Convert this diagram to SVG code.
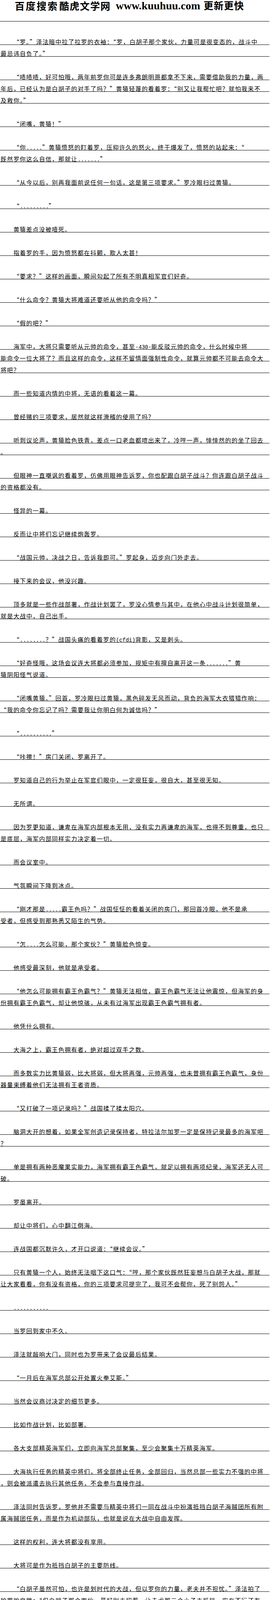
<svg xmlns="http://www.w3.org/2000/svg" width="700" height="4690" viewBox="0 0 700 4690" xml:lang="zh-CN">
<style>
.t{font-family:"Noto Sans CJK SC","Noto Sans CJK JP",sans-serif;font-size:15px;letter-spacing:1.45px;fill:#000;font-feature-settings:"fwid" 1;}
.m{font-family:"Liberation Mono",monospace;font-size:13.71px;letter-spacing:0px;font-feature-settings:normal;}
.h{font-family:"Noto Sans CJK SC",sans-serif;font-weight:700;font-size:25px;fill:#000;}
.w{font-family:"Liberation Serif",serif;font-weight:700;font-size:28px;fill:#000;}
.rule{fill:none;stroke:#000;stroke-width:1;}
</style>
<rect width="700" height="4690" fill="#fff"/>
<g id="header-top">
<text class="h" x="38" y="25" letter-spacing="3">百度搜索</text>
<text class="h" x="152" y="25" letter-spacing="1.4">酷虎文学网</text>
<text class="w" x="297" y="23.5">www.kuuhuu.com</text>
<text class="h" x="522" y="24" font-size="24" letter-spacing="1">更新更快</text>
</g>
<g id="rules">
<path class="rule" d="M0 54.5H691M0 114.5H691M0 144.5H691M0 204.5H691M0 234.5H691M0 264.5H691M0 324.5H691M0 384.5H691M0 414.5H691M0 474.5H691M0 534.5H691M0 594.5H691M0 654.5H691M0 714.5H691M0 774.5H691M0 834.5H691M0 894.5H691M0 924.5H691M0 954.5H691M0 1014.5H691M0 1074.5H691M0 1134.5H691M0 1164.5H691M0 1224.5H691M0 1254.5H691M0 1314.5H691M0 1374.5H691M0 1434.5H691M0 1494.5H691M0 1554.5H691M0 1584.5H691M0 1644.5H691M0 1704.5H691M0 1734.5H691M0 1794.5H691M0 1824.5H691M0 1884.5H691M0 1944.5H691M0 2004.5H691M0 2064.5H691M0 2124.5H691M0 2154.5H691M0 2214.5H691M0 2274.5H691M0 2334.5H691M0 2364.5H691M0 2424.5H691M0 2484.5H691M0 2544.5H691M0 2574.5H691M0 2634.5H691M0 2694.5H691M0 2754.5H691M0 2784.5H691M0 2844.5H691M0 2904.5H691M0 2934.5H691M0 2994.5H691M0 3024.5H691M0 3084.5H691M0 3144.5H691M0 3204.5H691M0 3264.5H691M0 3294.5H691M0 3354.5H691M0 3414.5H691M0 3474.5H691M0 3534.5H691M0 3594.5H691M0 3654.5H691M0 3714.5H691M0 3774.5H691M0 3804.5H691M0 3864.5H691M0 3894.5H691M0 3954.5H691M0 4014.5H691M0 4074.5H691M0 4104.5H691M0 4134.5H691M0 4194.5H691M0 4254.5H691M0 4314.5H691M0 4374.5H691M0 4434.5H691M0 4464.5H691M0 4524.5H691M0 4584.5H691M0 4614.5H691"/>
</g>
<g id="body">
<text class="t" x="34.4" y="112.5">“罗。”泽法暗中拉了拉罗的衣袖：“罗，白胡子那个家伙，力量可是很变态的，战斗中</text>
<text class="t" x="1.5" y="142.5">最忌讳自负了。”</text>
<text class="t" x="34.4" y="202.5">“啧啧啧，好可怕哦，两年前罗你可是连多弗朗明哥都拿不下来，需要借助我的力量，两</text>
<text class="t" x="1.5" y="232.5">年后，已经认为是白胡子的对手了吗？”黄猿轻蔑的看着罗：“别又让我帮忙吧？就怕我来不</text>
<text class="t" x="1.5" y="262.5">及救你。”</text>
<text class="t" x="34.4" y="322.5">“闭嘴，黄猿！”</text>
<text class="t" x="34.4" y="382.5">“你<tspan class="m">.....</tspan>”黄猿愤怒的盯着罗，压抑许久的怒火，终于爆发了，愤怒的站起来：“</text>
<text class="t" x="1.5" y="412.5">既然罗你这么自信，那就让<tspan class="m">.......</tspan>”</text>
<text class="t" x="34.4" y="472.5">“从今以后，别再我面前说任何一句话，这是第三项要求。”罗冷眼扫过黄猿。</text>
<text class="t" x="34.4" y="532.5">“<tspan class="m">.........</tspan>”</text>
<text class="t" x="34.4" y="592.5">黄猿差点没被噎死。</text>
<text class="t" x="34.4" y="652.5">指着罗的手，因为愤怒都在抖颤，欺人太甚！</text>
<text class="t" x="34.4" y="712.5">“要求？”这样的画面，瞬间勾起了所有不明真相军官们好奇。</text>
<text class="t" x="34.4" y="772.5">“什么命令？黄猿大将难道还要听从他的命令吗？”</text>
<text class="t" x="34.4" y="832.5">“假的吧？”</text>
<text class="t" x="34.4" y="892.5">海军中，大将只需要听从元帅的命令，甚至<tspan class="m">-430-</tspan>能反驳元帅的命令，什么时候中将</text>
<text class="t" x="1.5" y="922.5">能命令一位大将了？而且这样的命令，这样不留情面强制性命令，就算元帅都不可能去命令大</text>
<text class="t" x="1.5" y="952.5">将吧？</text>
<text class="t" x="34.4" y="1012.5">而一些知道内情的中将，无语的看着这一幕。</text>
<text class="t" x="34.4" y="1072.5">曾经赌约三项要求，居然就这样滑稽的使用了吗？</text>
<text class="t" x="34.4" y="1132.5">听到议论声，黄猿脸色铁青，差点一口老血都喷出来了，冷哼一声，悻悻然的的坐了回去</text>
<text class="t" x="1.5" y="1162.5">。</text>
<text class="t" x="34.4" y="1222.5">但眼神一直嘲讽的看着罗，仿佛用眼神告诉罗，你也配跟白胡子战斗？你连跟白胡子战斗</text>
<text class="t" x="1.5" y="1252.5">的资格都没有。</text>
<text class="t" x="34.4" y="1312.5">怪异的一幕。</text>
<text class="t" x="34.4" y="1372.5">反而让中将们忘记继续炮轰罗。</text>
<text class="t" x="34.4" y="1432.5">“战国元帅，决战之日，告诉我即可。”罗起身，迈步向门外走去。</text>
<text class="t" x="34.4" y="1492.5">接下来的会议，他没兴趣。</text>
<text class="t" x="34.4" y="1552.5">顶多就是一些作战部署，作战计划罢了，罗没心情参与其中，在他心中战斗计划很简单，</text>
<text class="t" x="1.5" y="1582.5">就是大战中，自己出手。</text>
<text class="t" x="34.4" y="1642.5">“<tspan class="m">........</tspan>？”战国头痛的看着罗的<tspan class="m">(cfdi)</tspan>背影，又是刺头。</text>
<text class="t" x="34.4" y="1702.5">“好奇怪哦，这场会议连大将都必须参加，规矩中有擅自离开这一条<tspan class="m">.......</tspan>”黄</text>
<text class="t" x="1.5" y="1732.5">猿阴阳怪气说道。</text>
<text class="t" x="34.4" y="1792.5">“闭嘴黄猿。”回首，罗冷眼扫过黄猿，黑色碎发无风而动，背负的海军大衣猎猎作响：</text>
<text class="t" x="1.5" y="1822.5">“我的命令你忘记了吗？需要我让你明白何为诚信吗？”</text>
<text class="t" x="34.4" y="1882.5">“<tspan class="m">..........</tspan>”</text>
<text class="t" x="34.4" y="1942.5">“咔擦！”房门关闭，罗离开了。</text>
<text class="t" x="34.4" y="2002.5">罗知道自己的行为举止在军官们眼中，一定很狂妄，很自大，甚至很无知。</text>
<text class="t" x="34.4" y="2062.5">无所谓。</text>
<text class="t" x="34.4" y="2122.5">因为罗更知道，谦卑在海军内部根本无用，没有实力再谦卑的海军，也得不到尊重，也只</text>
<text class="t" x="1.5" y="2152.5">是底层，海军内部同样实力决定着一切。</text>
<text class="t" x="34.4" y="2212.5">而会议室中。</text>
<text class="t" x="34.4" y="2272.5">气氛瞬间下降到冰点。</text>
<text class="t" x="34.4" y="2332.5">“刚才那是<tspan class="m">.....</tspan>霸王色吗？”战国怔怔的看着关闭的房门，那回首冷眼，他不是承</text>
<text class="t" x="1.5" y="2362.5">受者，但感受到那熟悉又陌生的气势。</text>
<text class="t" x="34.4" y="2422.5">“怎<tspan class="m">....</tspan>怎么可能，那个家伙？”黄猿脸色惊变。</text>
<text class="t" x="34.4" y="2482.5">他感受最深刻，他就是承受者。</text>
<text class="t" x="34.4" y="2542.5">“他怎么可能拥有霸王色霸气？”黄猿无法相信，霸王色霸气无法让他震惊，但海军的身</text>
<text class="t" x="1.5" y="2572.5">份拥有霸王色霸气，却让他惊骇，从未有过海军出现霸王色霸气拥有者。</text>
<text class="t" x="34.4" y="2632.5">他凭什么拥有。</text>
<text class="t" x="34.4" y="2692.5">大海之上，霸王色拥有者，绝对超过双手之数。</text>
<text class="t" x="34.4" y="2752.5">而多数实力比黄猿弱，比大将弱，但大将再强，元帅再强，也未曾拥有霸王色霸气，身份</text>
<text class="t" x="1.5" y="2782.5">器量束缚着他们无法拥有王者资质。</text>
<text class="t" x="34.4" y="2842.5">“又打破了一项记录吗？”战国揉了揉太阳穴。</text>
<text class="t" x="34.4" y="2902.5">脑洞大开的想着，如果全军创造记录保持者，特拉法尔加罗一定是保持记录最多的海军吧</text>
<text class="t" x="1.5" y="2932.5">？</text>
<text class="t" x="34.4" y="2992.5">单是拥有两种恶魔果实能力，海军拥有霸王色霸气，就足以拥有两项纪录，海军还无人可</text>
<text class="t" x="1.5" y="3022.5">破。</text>
<text class="t" x="34.4" y="3082.5">罗虽离开。</text>
<text class="t" x="34.4" y="3142.5">却让中将们，心中翻江倒海。</text>
<text class="t" x="34.4" y="3202.5">连战国都沉默许久，才开口说道：“继续会议。”</text>
<text class="t" x="34.4" y="3262.5">只有黄猿一个人，始终无法咽下这口气：“哼，那个家伙既然狂妄想与白胡子大战，那就</text>
<text class="t" x="1.5" y="3292.5">让大家看看，你有没有资格，你的三项要求可提完了，我可不会帮你，死了别怨人。”</text>
<text class="t" x="34.4" y="3352.5"><tspan class="m">...........</tspan></text>
<text class="t" x="34.4" y="3412.5">当罗回到家中不久。</text>
<text class="t" x="34.4" y="3472.5">泽法就敲响大门，同时也为罗带来了会议最后结果。</text>
<text class="t" x="34.4" y="3532.5">“一月后在海军总部公开处置火拳艾斯。”</text>
<text class="t" x="34.4" y="3592.5">当然会议商讨决定的细节更多。</text>
<text class="t" x="34.4" y="3652.5">比如作战计划，比如部署。</text>
<text class="t" x="34.4" y="3712.5">各大支部精英海军们，立即向海军总部聚集，至少会聚集十万精英海军。</text>
<text class="t" x="34.4" y="3772.5">大海执行任务的精英中将们，将全部终止任务，全部回归，当然总部一些实力不强的中将</text>
<text class="t" x="1.5" y="3802.5">，则会被派遣去执行其他任务，不会参与直接作战。</text>
<text class="t" x="34.4" y="3862.5">泽法同时告诉罗，罗他并不需要与精英中将们一同在战斗中扮演抵挡白胡子海贼团所有附</text>
<text class="t" x="1.5" y="3892.5">属海贼团任务，而是作为机动部队，也就是说在大战中自由发挥。</text>
<text class="t" x="34.4" y="3952.5">这样的权利，连大将都没有享用。</text>
<text class="t" x="34.4" y="4012.5">大将可是作为抵挡白胡子的主要防线。</text>
<text class="t" x="34.4" y="4072.5">“白胡子虽然可怕，也许是划时代的大战，但以罗你的力量，老夫并不担忧。”泽法拍了</text>
<text class="t" x="1.5" y="4102.5">拍罗的肩膀：“但白胡子那个家伙，最好别去招惹，让赤犬那三个小子去抵挡，实在不行还有</text>
<text class="t" x="1.5" y="4132.5">战国还有卡普，用不着你去拼命。”</text>
<text class="t" x="34.4" y="4192.5">罗轻笑并没有承诺什么。</text>
<text class="t" x="34.4" y="4252.5">白胡子最后一战，怎么可能不参与？</text>
<text class="t" x="34.4" y="4312.5">“可惜老夫老了。”泽法拍了拍罗的肩膀，转身向远处走去，背影略显萧条。</text>
<text class="t" x="34.4" y="4372.5">泽法并不是直接作战部队。</text>
<text class="t" x="34.4" y="4432.5">他的任务是管理海军总部整个城镇，指挥所有城镇居民撤离，保护所有百姓以及新兵们撤</text>
<text class="t" x="1.5" y="4462.5">离，不会参与这场大战。</text>
<text class="t" x="1.5" y="4522.5">飞卢提醒您：读书三件事<tspan class="m"> - </tspan>收藏、推荐、分享！<tspan class="m">(angjer)</tspan></text>
<text class="t" x="1.5" y="4582.5">支持飞卢小说网<tspan class="m">(http://b.faloo.com)</tspan>原创作品，尽享阅读的喜悦！<tspan class="m">1</tspan></text>
<text class="t" x="1.5" y="4612.5"><tspan class="m">60702124133</tspan></text>
</g>
<g id="header-bottom">
<text class="h" x="38" y="4675" letter-spacing="3">百度搜索</text>
<text class="h" x="152" y="4675" letter-spacing="1.4">酷虎文学网</text>
<text class="w" x="297" y="4673.5">www.kuuhuu.com</text>
<text class="h" x="522" y="4674" font-size="24" letter-spacing="1">更新更快</text>
</g>
</svg>
